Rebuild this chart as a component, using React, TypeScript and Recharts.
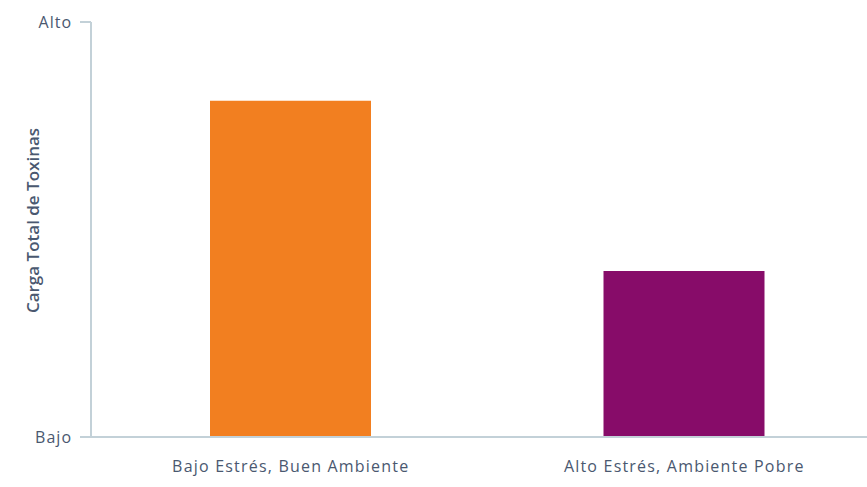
import { Bar, BarChart, Cell, XAxis, YAxis } from 'recharts';

const categories = ['Bajo Estrés, Buen Ambiente', 'Alto Estrés, Ambiente Pobre'];
const toxinLoad = [81, 40];
const yTicks = [0, 100];
const yTickLabels: Record<number, string> = { 0: 'Bajo', 100: 'Alto' };
const barColors = ['#f27f20', '#870c69'];

const data = categories.map((name, i) => ({ name, value: toxinLoad[i] }));

const axisColor = '#c3d1d8';
const textColor = '#4a5870';
const font = '"Open Sans", sans-serif';

export default function App() {
  return (
    <div style={{ position: 'absolute', left: 0, top: 0, width: 867, height: 487, background: '#fff' }}>
      <BarChart
        width={867}
        height={487}
        data={data}
        margin={{ top: 22, right: -14, bottom: 0, left: 0 }}
        barCategoryGap={0}
      >
        <XAxis
          dataKey="name"
          height={50}
          padding={{ left: 3, right: 0 }}
          tickLine={false}
          tickSize={0}
          tickMargin={24}
          stroke={axisColor}
          strokeWidth={2}
          tick={{ fill: textColor, fontSize: 16, fontFamily: font, letterSpacing: 1.2 }}
        />
        <YAxis
          width={91}
          domain={[0, 100]}
          ticks={yTicks}
          tickFormatter={(v: number) => yTickLabels[v] ?? ''}
          tickSize={11}
          tickMargin={8}
          stroke={axisColor}
          strokeWidth={2}
          tick={{ fill: textColor, fontSize: 16, fontFamily: font, letterSpacing: 1 }}
          label={{
            value: 'Carga Total de Toxinas',
            angle: -90,
            position: 'insideLeft',
            offset: 33,
            dy: -9,
            style: {
              textAnchor: 'middle',
              fill: textColor,
              fontSize: 17,
              fontWeight: 600,
              fontFamily: font,
            },
          }}
        />
        <Bar dataKey="value" barSize={161} isAnimationActive={false}>
          {data.map((d, i) => (
            <Cell key={d.name} fill={barColors[i]} />
          ))}
        </Bar>
      </BarChart>
    </div>
  );
}
